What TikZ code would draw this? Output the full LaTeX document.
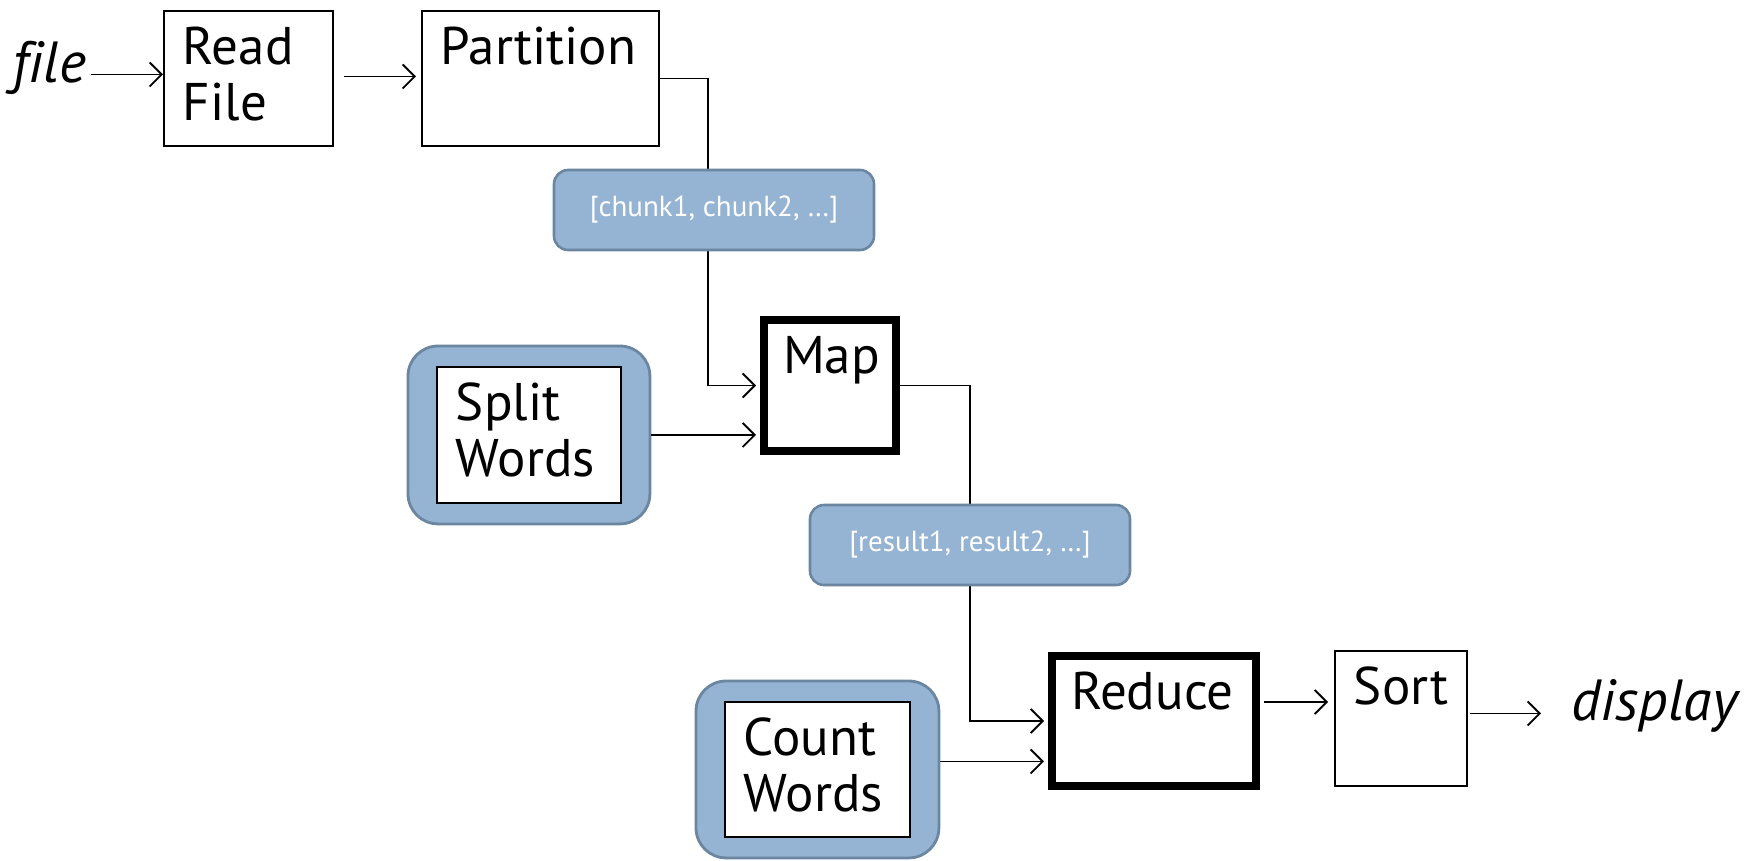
\documentclass[tikz,border=0pt]{standalone}
\usepackage{fontspec}
\setmainfont{PT Sans}
\usetikzlibrary{arrows.meta, positioning, calc, backgrounds, fit}
\definecolor{tagblue}{HTML}{95B3D2}
\definecolor{tagedge}{HTML}{6B86A0}

\newcommand{\stagefont}{\fontsize{53}{56}\selectfont}
\newcommand{\tagfont}{\fontsize{29}{32}\selectfont}
% text box: width, height, lines (top-left aligned)
\newcommand{\stagetext}[3]{\parbox[c][#2pt][t]{#1pt}{\raggedright #3}}

\tikzset{
  stage/.style={draw, line width=1.9pt, fill=white, anchor=north west,
    inner xsep=19pt, inner ysep=16pt, font=\stagefont},
  stagethick/.style={stage, line width=8pt},
  wrapper/.style={draw=tagedge, fill=tagblue, line width=2.8pt,
    rounded corners=30pt, inner xsep=28pt, inner ysep=20pt},
  tag/.style={draw=tagedge, fill=tagblue, line width=2.6pt, rounded corners=14pt,
    text=white, font=\tagfont, minimum width=320pt, minimum height=80pt},
  endword/.style={inner sep=0pt, anchor=base west,
    font=\fontsize{58}{60}\selectfont\itshape\addfontfeatures{Ligatures=NoCommon}},
  flow/.style={line width=1.9pt, -{Straight Barb[length=12pt,width=24pt]}},
}

\begin{document}
\begin{tikzpicture}[x=1pt, y=-1pt]
  \useasboundingbox (0,0) rectangle (1753,860);

  % pipeline stages
  \node[endword] (file) at (12,82) {file};
  \node[stage] (readf) at (163,10) {\stagetext{131}{103}{Read\\File}};
  \node[stage] (part) at (421,10) {\stagetext{199}{103}{Partition}};
  \node[stagethick] (map) at (760,316) {\stagetext{94}{99}{Map}};
  \node[stage] (splitw) at (436,366) {\stagetext{146}{104}{Split\\Words}};
  \node[stagethick] (reduce) at (1048,652) {\stagetext{166}{98}{Reduce}};
  \node[stage] (countw) at (724,701) {\stagetext{147}{103}{Count\\Words}};
  \node[stage] (sort) at (1334,650) {\stagetext{94}{103}{Sort}};
  \node[endword] (display) at (1571,720) {display};

  % intermediate lists
  \node[tag] (chunk) at (714,210) {[chunk1, chunk2, …]};
  \node[tag] (result) at (970,545) {[result1, result2, …]};

  \begin{scope}[on background layer]
    % function wrappers
    \node[wrapper, fit=(splitw)] (split) {};
    \node[wrapper, fit=(countw)] (count) {};

    % data flow
    \draw[flow, shorten <=5pt] ([yshift=4pt]file.east |- readf.west) -- ([yshift=4pt]readf.west);
    \draw[flow, shorten <=10pt, shorten >=5pt] ([yshift=2pt]readf.east) -- ([yshift=2pt]part.west);
    \draw[flow, shorten >=4pt] (part.east) -| ([xshift=-6pt]chunk.center) |- (map.west);
    \draw[flow, shorten >=4pt] (split.east) -- (split.east -| map.west);
    \draw[flow, shorten >=4pt] (map.east) -| (result.center) |- (reduce.west);
    \draw[flow, shorten >=4pt] ([yshift=8pt]count.east) -- ([yshift=8pt]count.east -| reduce.west);
    \draw[flow, shorten <=4pt, shorten >=6pt] ([yshift=19pt]reduce.east) -- ([yshift=19pt]reduce.east -| sort.west);
    \draw[flow, shorten <=2pt, shorten >=30pt] ([yshift=5pt]sort.east) -- ([yshift=5pt]sort.east -| display.west);
  \end{scope}
\end{tikzpicture}
\end{document}
